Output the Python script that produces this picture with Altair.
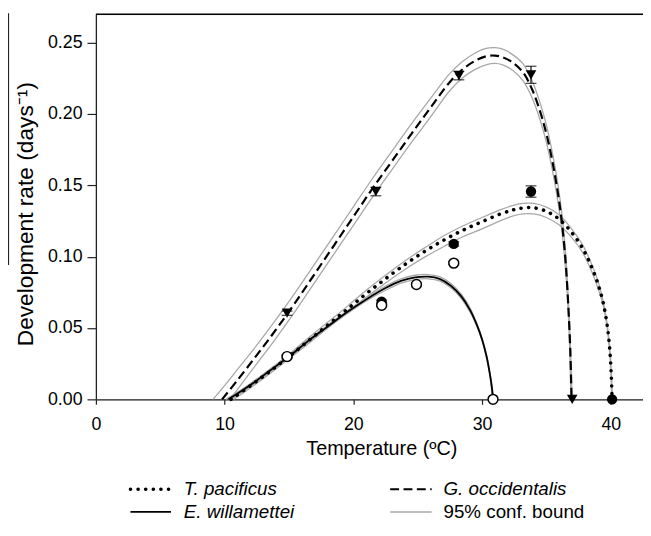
import altair as alt
import pandas as pd

# ---------------- data ----------------
# G. occidentalis fitted curve (mean) and 95% bounds
go_T = [9.8, 11.0, 12.5, 14.0, 15.5, 17.0, 18.5, 20.0, 21.5, 23.0, 24.5, 26.0, 27.5, 28.5, 29.5, 30.3,
        31.0, 31.6, 32.4, 33.2, 33.9, 34.5, 35.0, 35.5, 35.9, 36.2, 36.5, 36.7, 36.85, 36.95]
go_r = [0.0, 0.0135, 0.031, 0.049, 0.068, 0.088, 0.108, 0.128, 0.148, 0.167, 0.186, 0.2045, 0.2225, 0.2315, 0.2375, 0.2405,
        0.241, 0.2398, 0.236, 0.229, 0.217, 0.202, 0.186, 0.165, 0.144, 0.124, 0.095, 0.065, 0.035, 0.0]
go_up_T = [9.1, 9.8, 11.0, 12.5, 14.0, 15.5, 17.0, 18.5, 20.0, 21.5, 23.0, 24.5, 26.0, 27.5, 28.5, 29.5, 30.3,
           31.0, 31.6, 32.4, 33.2, 33.9, 34.5, 35.0, 35.5, 35.9, 36.2, 36.5, 36.7, 36.85, 37.0]
go_up_r = [0.0, 0.0075, 0.021, 0.038, 0.056, 0.075, 0.095, 0.115, 0.135, 0.155, 0.174, 0.193, 0.211, 0.2285, 0.237, 0.243,
           0.246, 0.2465, 0.2455, 0.2415, 0.235, 0.223, 0.208, 0.192, 0.171, 0.150, 0.130, 0.101, 0.070, 0.040, 0.0]
go_lo_T = [10.4, 11.0, 12.5, 14.0, 15.5, 17.0, 18.5, 20.0, 21.5, 23.0, 24.5, 26.0, 27.5, 28.5, 29.5, 30.3,
           31.0, 31.6, 32.4, 33.2, 33.9, 34.5, 35.0, 35.5, 35.9, 36.2, 36.5, 36.7, 36.82, 36.9]
go_lo_r = [0.0, 0.007, 0.025, 0.043, 0.062, 0.082, 0.102, 0.122, 0.142, 0.161, 0.180, 0.198, 0.2165, 0.2255, 0.2315, 0.2345,
           0.2355, 0.2345, 0.2305, 0.223, 0.211, 0.196, 0.180, 0.159, 0.138, 0.118, 0.089, 0.060, 0.030, 0.0]

# T. pacificus fitted curve and bounds
tp_T = [10.5, 12.0, 13.5, 15.0, 16.5, 18.0, 19.5, 21.0, 22.5, 24.0, 25.5, 27.0, 28.5, 30.0, 31.5, 32.5,
        33.2, 34.0, 35.0, 36.0, 37.0, 37.8, 38.5, 39.0, 39.4, 39.7, 39.9, 40.02, 40.1]
tp_r = [0.0, 0.0095, 0.0195, 0.030, 0.041, 0.052, 0.063, 0.074, 0.0845, 0.0945, 0.1035, 0.1115, 0.1185, 0.1245, 0.1302, 0.1330,
        0.1342, 0.1343, 0.1318, 0.1262, 0.1165, 0.106, 0.093, 0.081, 0.068, 0.053, 0.037, 0.020, 0.0]
tp_up_T = [10.3, 12.0, 13.5, 15.0, 16.5, 18.0, 19.5, 21.0, 22.5, 24.0, 25.5, 27.0, 28.5, 30.0, 31.5, 32.5,
           33.2, 34.0, 35.0, 36.0, 37.0, 37.8, 38.5, 39.0, 39.4, 39.7, 39.9, 40.04, 40.12]
tp_up_r = [0.0, 0.011, 0.021, 0.0315, 0.043, 0.054, 0.065, 0.0765, 0.087, 0.097, 0.106, 0.1145, 0.1215, 0.1275, 0.1332, 0.1362,
           0.1374, 0.1374, 0.1348, 0.1293, 0.119, 0.1085, 0.095, 0.083, 0.069, 0.054, 0.038, 0.020, 0.0]
tp_lo_T = [10.7, 12.0, 13.5, 15.0, 16.5, 18.0, 19.5, 21.0, 22.5, 24.0, 25.5, 27.0, 28.5, 30.0, 31.5, 32.5,
           33.2, 34.0, 35.0, 36.0, 37.0, 37.8, 38.5, 39.0, 39.4, 39.7, 39.88, 40.0, 40.07]
tp_lo_r = [0.0, 0.008, 0.018, 0.0285, 0.039, 0.050, 0.061, 0.0715, 0.0815, 0.091, 0.0995, 0.107, 0.114, 0.1195, 0.1255, 0.1288,
           0.1300, 0.1300, 0.1275, 0.1222, 0.113, 0.103, 0.090, 0.078, 0.066, 0.051, 0.036, 0.019, 0.0]

# E. willamettei fitted curve and bounds
ew_T = [10.3, 12.0, 13.5, 15.0, 16.5, 18.0, 19.5, 21.0, 22.5, 23.7, 24.8, 25.8, 26.7, 27.6, 28.4, 29.1,
        29.6, 30.0, 30.35, 30.6, 30.75, 30.85]
ew_r = [0.0, 0.010, 0.020, 0.030, 0.041, 0.051, 0.061, 0.070, 0.078, 0.083, 0.0855, 0.086, 0.0845, 0.0795, 0.072, 0.062,
        0.052, 0.042, 0.030, 0.018, 0.009, 0.0]
ew_up_T = [10.1, 12.0, 13.5, 15.0, 16.5, 18.0, 19.5, 21.0, 22.5, 23.7, 24.8, 25.8, 26.7, 27.6, 28.4, 29.1,
           29.6, 30.0, 30.35, 30.6, 30.8, 30.9]
ew_up_r = [0.0, 0.011, 0.021, 0.031, 0.042, 0.052, 0.062, 0.071, 0.0795, 0.0845, 0.087, 0.0875, 0.086, 0.081, 0.0735, 0.0635,
           0.053, 0.043, 0.031, 0.019, 0.008, 0.0]
ew_lo_T = [10.5, 12.0, 13.5, 15.0, 16.5, 18.0, 19.5, 21.0, 22.5, 23.7, 24.8, 25.8, 26.7, 27.6, 28.4, 29.1,
           29.6, 30.0, 30.35, 30.6, 30.72, 30.8]
ew_lo_r = [0.0, 0.009, 0.019, 0.029, 0.040, 0.050, 0.060, 0.069, 0.0765, 0.0815, 0.084, 0.0845, 0.083, 0.078, 0.0705, 0.0605,
           0.051, 0.041, 0.029, 0.017, 0.008, 0.0]

# observed means and standard errors
go_obs_T = [14.85, 21.75, 28.2, 33.8, 37.0]
go_obs_r = [0.0604, 0.1457, 0.227, 0.2275, 0.0]
go_obs_se = [0.0015, 0.003, 0.003, 0.006, 0.0]
tp_obs_T = [14.85, 22.2, 27.8, 33.8, 40.1]
tp_obs_r = [0.030, 0.0685, 0.109, 0.1457, 0.0]
tp_obs_se = [0.001, 0.001, 0.0015, 0.004, 0.0]
ew_obs_T = [14.85, 22.2, 24.9, 27.8, 30.85]
ew_obs_r = [0.030, 0.066, 0.0805, 0.0955, 0.0]
ew_obs_se = [0.001, 0.001, 0.001, 0.001, 0.0]

x_ticks = [0, 10, 20, 30, 40]
y_ticks = [0.0, 0.05, 0.10, 0.15, 0.20, 0.25]
legend_labels = ["T. pacificus", "G. occidentalis", "E. willamettei", "95% conf. bound"]

# ---------------- tables ----------------
def curve(T, r, name):
    return pd.DataFrame({"T": T, "r": r, "curve": name})

def obs(T, r, se):
    return pd.DataFrame({"T": T, "r": r, "lo": [a - b for a, b in zip(r, se)], "hi": [a + b for a, b in zip(r, se)]})

ci_df = pd.concat([
    curve(go_up_T, go_up_r, "go_up"), curve(go_lo_T, go_lo_r, "go_lo"),
    curve(tp_up_T, tp_up_r, "tp_up"), curve(tp_lo_T, tp_lo_r, "tp_lo"),
    curve(ew_up_T, ew_up_r, "ew_up"), curve(ew_lo_T, ew_lo_r, "ew_lo"),
])
go_df = curve(go_T, go_r, "go")
tp_df = curve(tp_T, tp_r, "tp")
ew_df = curve(ew_T, ew_r, "ew")
go_o = obs(go_obs_T, go_obs_r, go_obs_se)
tp_o = obs(tp_obs_T, tp_obs_r, tp_obs_se)
ew_o = obs(ew_obs_T, ew_obs_r, ew_obs_se)
err_df = pd.concat([go_o, tp_o, ew_o])
err_df = err_df[err_df["hi"] > err_df["lo"]]

FONT = "Liberation Sans"
W, H = 554, 390
INTERP = "catmull-rom"

xs = alt.Scale(domain=[0, 42.5], nice=False, zero=False)
ys = alt.Scale(domain=[0, 0.27], nice=False, zero=False)
xaxis = alt.Axis(values=x_ticks, format="d", grid=False, tickSize=5, labelPadding=12,
                 labelFontSize=18, labelFont=FONT, labelColor="black", labelFlush=False,
                 domainColor="#222", domainWidth=1.3, tickColor="#222", tickWidth=1.2,
                 title="Temperature (ºC)", titleFont=FONT, titleFontSize=20, titleFontWeight="normal",
                 titleColor="black", titleX=289, titleY=56, titleBaseline="alphabetic", titleAlign="center")
yaxis = alt.Axis(values=y_ticks, format=".2f", grid=False, tickSize=9, labelPadding=5,
                 labelFontSize=18, labelFont=FONT, labelColor="black", labelFlush=False,
                 domainColor="#222", domainWidth=1.3, tickColor="#222", tickWidth=1.2,
                 title="Development rate (days⁻¹)", titleFont=FONT, titleFontSize=23,
                 titleFontWeight="normal", titleColor="black", titleX=-64, titleY=202,
                 titleAngle=270, titleBaseline="alphabetic", titleAlign="center")
X = alt.X("T:Q", scale=xs, axis=xaxis)
Y = alt.Y("r:Q", scale=ys, axis=yaxis)
Ylo = alt.Y("lo:Q", scale=ys, axis=yaxis)
Yhi = alt.Y("hi:Q", scale=ys, axis=yaxis)

ci = alt.Chart(ci_df).mark_line(color="#a8a8a8", strokeWidth=1.3, interpolate=INTERP).encode(
    x=X, y=Y, detail="curve:N")
ew_line = alt.Chart(ew_df).mark_line(color="black", strokeWidth=1.8, interpolate=INTERP).encode(x=X, y=Y)
tp_line = alt.Chart(tp_df).mark_line(color="black", strokeWidth=3.6, strokeDash=[0.1, 7.6], strokeCap="round",
                                     interpolate=INTERP).encode(x=X, y=Y)
go_line = alt.Chart(go_df).mark_line(color="black", strokeWidth=2.2, strokeDash=[9, 4.5],
                                     interpolate=INTERP).encode(x=X, y=Y)

err_rule = alt.Chart(err_df).mark_rule(color="black", strokeWidth=1.2).encode(x=X, y=Ylo, y2="hi:Q")
cap_lo = alt.Chart(err_df).mark_tick(color="black", orient="horizontal", size=11, thickness=1.3).encode(x=X, y=Ylo)
cap_hi = alt.Chart(err_df).mark_tick(color="black", orient="horizontal", size=11, thickness=1.3).encode(x=X, y=Yhi)

go_pts = alt.Chart(go_o).mark_point(shape="triangle-down", filled=True, color="black", size=115, opacity=1).encode(x=X, y=Y)
tp_pts = alt.Chart(tp_o).mark_circle(color="black", size=110, opacity=1).encode(x=X, y=Y)
ew_pts = alt.Chart(ew_o).mark_point(shape="circle", filled=True, fill="white", stroke="black", strokeWidth=1.5,
                                    size=100, opacity=1).encode(x=X, y=Y)

one = pd.DataFrame({"k": [0]})
top_line = alt.Chart(one).mark_rule(color="black", strokeWidth=1.5).encode(
    x=alt.value(0), x2=alt.value(W), y=alt.value(0))
side_mark = alt.Chart(one).mark_rule(color="#222", strokeWidth=1.2).encode(
    x=alt.value(-88.5), y=alt.value(-1), y2=alt.value(254))

# legend (drawn below the plot)
r1, r2 = 481, 504
lx0, lx1, ltx = 35, 76, 89
rx0, rx1, rtx = 298, 340, 352
leg = [
    alt.Chart(one).mark_rule(color="black", strokeWidth=3.6, strokeDash=[0.1, 7.6], strokeCap="round").encode(
        x=alt.value(lx0), x2=alt.value(lx1), y=alt.value(r1)),
    alt.Chart(one).mark_rule(color="black", strokeWidth=2.2, strokeDash=[9, 4.5]).encode(
        x=alt.value(rx0), x2=alt.value(rx1), y=alt.value(r1)),
    alt.Chart(one).mark_rule(color="black", strokeWidth=1.8).encode(
        x=alt.value(lx0), x2=alt.value(lx1), y=alt.value(r2)),
    alt.Chart(one).mark_rule(color="#a8a8a8", strokeWidth=1.5).encode(
        x=alt.value(rx0), x2=alt.value(rx1), y=alt.value(r2)),
]
for lab, tx, ty in zip(legend_labels, [ltx, rtx, ltx, rtx], [r1, r1, r2, r2]):
    style = "normal" if lab.startswith("95") else "italic"
    leg.append(alt.Chart(one).mark_text(text=lab, font=FONT, fontSize=19, fontStyle=style, align="left",
                                        baseline="middle", color="black").encode(
        x=alt.value(tx), y=alt.value(ty)))

chart = alt.layer(ci, ew_line, tp_line, go_line, err_rule, cap_lo, cap_hi, tp_pts, ew_pts, go_pts,
                  top_line, side_mark, *leg).properties(
    width=W, height=H,
    autosize=alt.AutoSizeParams(type="none"),
    padding={"left": 89, "top": 3, "right": 0, "bottom": 128},
).configure_view(stroke=None).configure(background="white")

chart.save("out.html", embed_options={"renderer": "svg", "actions": False})
